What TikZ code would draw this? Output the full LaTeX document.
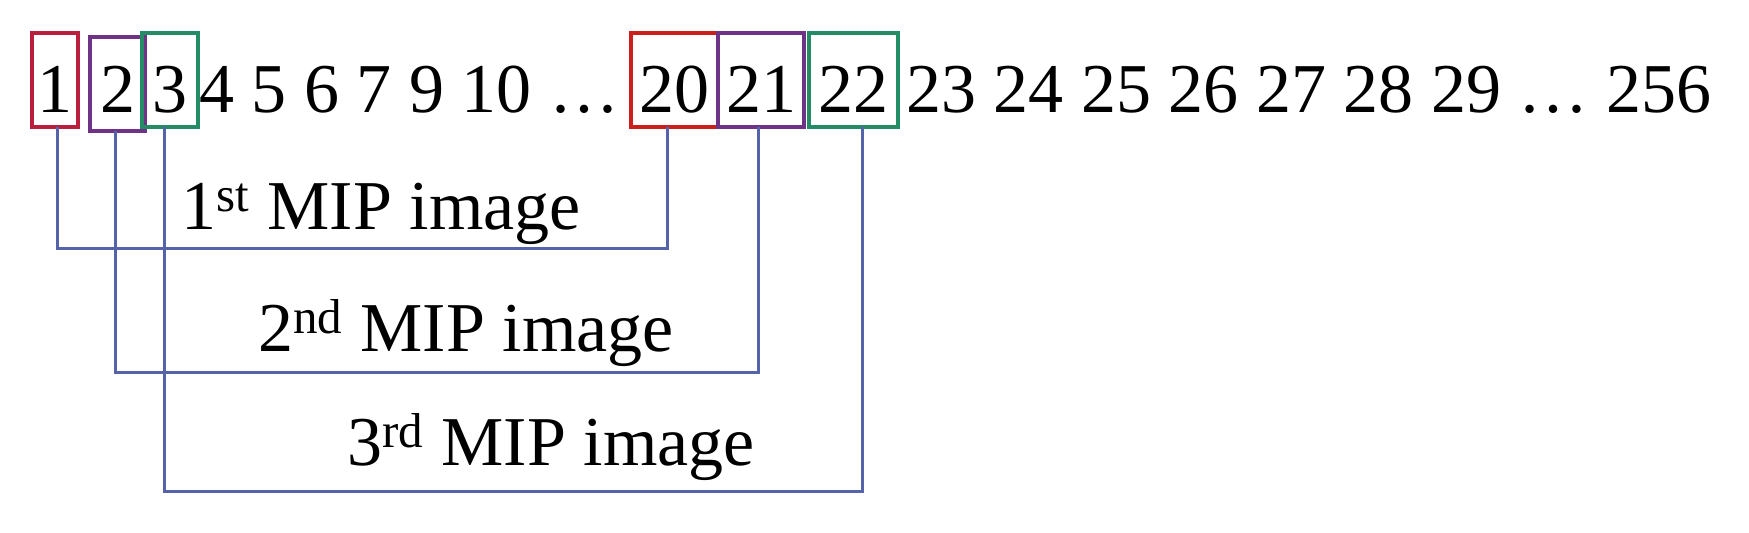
\documentclass[tikz,border=0pt]{standalone}
\usepackage{fontspec}
\setmainfont{Liberation Serif}
\usetikzlibrary{calc}
\definecolor{redA}{RGB}{185,30,60}
\definecolor{redB}{RGB}{205,30,30}
\definecolor{purp}{RGB}{110,50,135}
\definecolor{grn}{RGB}{35,140,100}
\definecolor{linkblue}{RGB}{85,100,170}
\begin{document}
\begin{tikzpicture}[x=0.5pt,y=-0.5pt,
  every node/.style={font=\fontsize{35}{42}\selectfont, inner sep=0pt, outer sep=0pt},
  numbox/.style={draw, line width=2pt, text height=40pt, text depth=7pt, anchor=base},
  run/.style={anchor=base west},
  bracket/.style={draw=linkblue, line width=1.5pt},
  lbl/.style={anchor=base}]
\useasboundingbox (0,0) rectangle (1749,533);
% number row
\node[numbox, draw=redA, minimum width=23pt] (n1) at (55,113) {1};
\node[numbox, draw=purp, minimum width=27.5pt, text height=38pt, text depth=9pt] (n2) at (117.5,113) {2};
\node[numbox, draw=grn, minimum width=28pt] (n3) at (170,113) {3};
\node[run] (ra) at (199,113) {4 5 6 7 9 10 …};
\node[numbox, draw=redB, minimum width=43.5pt] (n20) at (674.5,113) {20};
\node[numbox, draw=purp, minimum width=43pt] (n21) at (761,113) {21};
\node[numbox, draw=grn, minimum width=44.5pt] (n22) at (853.5,113) {22};
\node[run] (rb) at (906,113) {23 24 25 26 27 28 29 … 256};
% labels
\node[lbl] (l1) at (381,230) {1\textsuperscript{st} MIP image};
\node[lbl] (l2) at (466,352) {2\textsuperscript{nd} MIP image};
\node[lbl] (l3) at (551,466) {3\textsuperscript{rd} MIP image};
% bracket levels
\coordinate (b1) at (0,249);
\coordinate (b2) at (0,373);
\coordinate (b3) at (0,492);
% bracket ends
\coordinate (s1) at ($(n1.south)+(2,0)$);
\coordinate (e1) at ($(n20.south)+(-7.5,0)$);
\coordinate (s2) at ($(n2.south)+(-2.5,0)$);
\coordinate (e2) at ($(n21.south)+(-3,0)$);
\coordinate (s3) at ($(n3.south)+(-6,0)$);
\coordinate (e3) at ($(n22.south)+(8.5,0)$);
\draw[bracket] (s1) -- (s1 |- b1) -- (e1 |- b1) -- (e1);
\draw[bracket] (s2) -- (s2 |- b2) -- (e2 |- b2) -- (e2);
\draw[bracket] (s3) -- (s3 |- b3) -- (e3 |- b3) -- (e3);
\end{tikzpicture}
\end{document}
